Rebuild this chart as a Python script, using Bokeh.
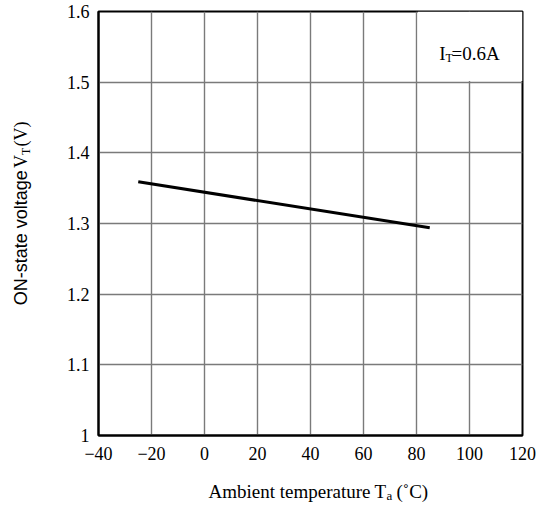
import math
from bokeh.plotting import figure
from bokeh.models import FixedTicker, Label, Range1d
from bokeh.layouts import column, row
from bokeh.embed import file_html
from bokeh.resources import INLINE

# ---- data ----
temp_c = [-25, 85]
von_v = [1.359, 1.294]

x_ticks = [-40, -20, 0, 20, 40, 60, 80, 100, 120]
x_tick_labels = ["\u221240", "\u221220", "0", "20", "40", "60", "80", "100", "120"]
y_ticks = [1.0, 1.1, 1.2, 1.3, 1.4, 1.5, 1.6]
y_tick_labels = ["1", "1.1", "1.2", "1.3", "1.4", "1.5", "1.6"]

note_box_x = [80, 120]
note_box_y = [1.5, 1.6]

X0, X1 = -40, 120
Y0, Y1 = 1.0, 1.6

# ---- layout (page pixels) ----
TOTAL_W, TOTAL_H = 539, 511
YLAB_W = 40            # strip holding the y title
XLAB_H = 41            # strip holding the x title
FRAME_L, FRAME_T = 98, 11
FW, FH = 424, 424
MAIN_W = TOTAL_W - YLAB_W
MAIN_H = TOTAL_H - XLAB_H

serif = "Liberation Serif"
sans = "Liberation Sans"

p = figure(width=MAIN_W, height=MAIN_H, output_backend="svg", toolbar_location=None,
           x_range=Range1d(X0, X1), y_range=Range1d(Y0, Y1),
           min_border_left=FRAME_L - YLAB_W, min_border_top=FRAME_T,
           min_border_right=MAIN_W - (FRAME_L - YLAB_W) - FW,
           min_border_bottom=MAIN_H - FRAME_T - FH)
p.background_fill_color = "white"
p.border_fill_color = "white"
p.outline_line_color = "black"
p.outline_line_width = 2

p.xaxis.ticker = FixedTicker(ticks=x_ticks)
p.yaxis.ticker = FixedTicker(ticks=y_ticks)
p.xaxis.major_label_overrides = {t: s for t, s in zip(x_ticks, x_tick_labels)}
p.yaxis.major_label_overrides = {t: s for t, s in zip(y_ticks, y_tick_labels)}
for ax in (p.xaxis, p.yaxis):
    ax.major_tick_line_color = None
    ax.minor_tick_line_color = None
    ax.axis_line_color = "black"
    ax.axis_line_width = 2
    ax.major_label_text_font = serif
    ax.major_label_text_font_size = "18px"
    ax.major_label_text_color = "black"
p.xaxis.major_label_standoff = 5
p.yaxis.major_label_standoff = 3

p.grid.grid_line_color = "#7a7a7a"
p.grid.grid_line_width = 1.4

# page px -> data helpers (for text placement inside the frame)
def dx(px):
    return X0 + (px - FRAME_L) * (X1 - X0) / FW

def dy(py):
    return Y1 - (py - FRAME_T) * (Y1 - Y0) / FH

# white note box (hides grid in the top-right cell)
px_x = (X1 - X0) / FW
px_y = (Y1 - Y0) / FH
p.quad(left=[note_box_x[0] + 1.2 * px_x], right=[note_box_x[1]],
       bottom=[note_box_y[0] + 1.2 * px_y], top=[note_box_y[1]],
       fill_color="white", line_color=None)

# the curve
p.line(temp_c, von_v, line_color="black", line_width=3)

def lab(fig, x, y, text, font=serif, size="18px", align="left", baseline="alphabetic", angle=0):
    fig.add_layout(Label(x=x, y=y, text=text, text_font=font, text_font_size=size,
                         text_align=align, text_baseline=baseline, angle=angle,
                         text_color="black"))

# I_T = 0.6A note
lab(p, dx(445), dy(53), "I", size="19px", align="right")
lab(p, dx(445), dy(57), "T", size="12px")
lab(p, dx(451), dy(53), "=0.6A", size="19px")

# ---- title strips ----
def blank(w, h):
    f = figure(width=w, height=h, output_backend="svg", toolbar_location=None,
               x_range=Range1d(0, w), y_range=Range1d(0, h),
               x_axis_type=None, y_axis_type=None,
               min_border=0, min_border_left=0, min_border_right=0,
               min_border_top=0, min_border_bottom=0)
    f.grid.visible = False
    f.outline_line_color = None
    f.background_fill_color = "white"
    f.border_fill_color = "white"
    return f

ylab = blank(YLAB_W, MAIN_H)
A = math.pi / 2
yy = lambda py: MAIN_H - py
lab(ylab, 20, yy(176), "ON-state voltage", font=sans, size="18px", align="right", baseline="middle", angle=A)
lab(ylab, 20, yy(159), "V", size="18px", align="right", baseline="middle", angle=A)
lab(ylab, 25, yy(151), "T", size="12px", align="right", baseline="middle", angle=A)
lab(ylab, 20, yy(122), "(V)", size="18px", align="right", baseline="middle", angle=A)

xlab = blank(TOTAL_W, XLAB_H)
xy = lambda py: TOTAL_H - py
lab(xlab, 370, xy(491), "Ambient temperature", size="19px", align="right")
lab(xlab, 374, xy(491), "T", size="19px")
lab(xlab, 386, xy(495), "a", size="13px")
lab(xlab, 396, xy(491), "(\u02daC)", size="19px")

layout = column(row(ylab, p, spacing=0), xlab, spacing=0)
open("out.html", "w").write(file_html(layout, INLINE))
